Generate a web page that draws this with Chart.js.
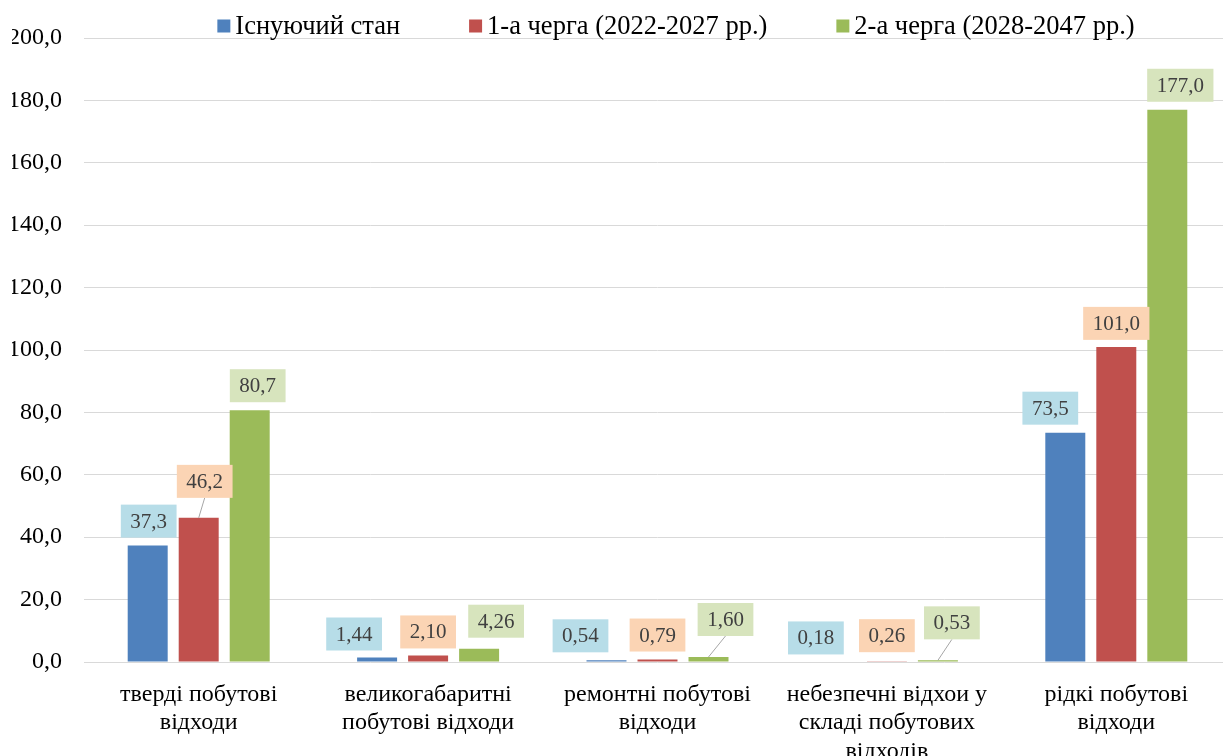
<!DOCTYPE html>
<html><head><meta charset="utf-8">
<script src="https://cdn.jsdelivr.net/npm/chart.js@4/dist/chart.umd.min.js"></script>
<style>
html,body{margin:0;padding:0;overflow:hidden;background:#fff;width:1223px;height:756px}
#wrap{position:absolute;left:0;top:0;width:1240px;height:790px}
</style>
</head><body><div id="wrap"><canvas id="c" width="1240" height="790"></canvas></div>
<script>
// ---- data ----
const categories = [
  ["тверді побутові","відходи"],
  ["великогабаритні","побутові відходи"],
  ["ремонтні побутові","відходи"],
  ["небезпечні відхои у","складі побутових","відходів"],
  ["рідкі побутові","відходи"]
];
const seriesNames = ["Існуючий стан","1-а черга (2022-2027 рр.)","2-а черга (2028-2047 рр.)"];
const existing = [37.3, 1.44, 0.54, 0.18, 73.5];
const stage1   = [46.2, 2.10, 0.79, 0.26, 101.0];
const stage2   = [80.7, 4.26, 1.60, 0.53, 177.0];
const labelDecimals = [1, 2, 2, 2, 1];
const yTicks = [0,20,40,60,80,100,120,140,160,180,200];

// ---- styles ----
const barColors = ["#4F81BD","#C0504D","#9BBB59"];
const labelFills = ["#B7DDE8","#FBD4B4","#D7E4BD"];
const SERIF = "'Liberation Serif','Times New Roman',serif";
// label placement tweaks (px): horizontal shift, gap between bar top and label box
const labelDx  = [[1,-23,-26,-20,-15],[6,0,0,0,0],[8,17,17,14,13]];
const labelGap = [[8,7,8,7,8],[20,7,8,9,7],[8,11,21,21,8]];

const fmt = (v, d) => v.toFixed(d).replace('.', ',');

const labelPlugin = {
  id: 'boxLabels',
  afterDatasetsDraw(chart) {
    const ctx = chart.ctx;
    ctx.save();
    ctx.font = "21px " + SERIF;
    ctx.textAlign = 'center';
    ctx.textBaseline = 'middle';
    chart.data.datasets.forEach((ds, i) => {
      const meta = chart.getDatasetMeta(i);
      meta.data.forEach((bar, j) => {
        const txt = fmt(ds.data[j], labelDecimals[j]);
        const w = ctx.measureText(txt).width + 19;
        const h = 33;
        const cx = bar.x + labelDx[i][j];
        const bottom = bar.y - labelGap[i][j];
        const top = bottom - h;
        if (labelGap[i][j] > 14) {
          ctx.strokeStyle = '#A6A6A6';
          ctx.lineWidth = 1;
          ctx.beginPath();
          ctx.moveTo(bar.x, bar.y);
          ctx.lineTo(cx, bottom);
          ctx.stroke();
        }
        ctx.fillStyle = labelFills[i];
        ctx.fillRect(cx - w/2, top, w, h);
        ctx.fillStyle = '#404040';
        ctx.fillText(txt, cx, top + h/2 + 1);
      });
    });
    ctx.restore();
  }
};

const LEGEND_CENTER_X = 676, LEGEND_Y = 26, LEGEND_GAP = 69, LEGEND_BOX = 13, LEGEND_TXT_GAP = 5;
const legendPlugin = {
  id: 'customLegend',
  afterDraw(chart) {
    const ctx = chart.ctx;
    ctx.save();
    ctx.font = "26.5px " + SERIF;
    ctx.textBaseline = 'middle';
    ctx.textAlign = 'left';
    const widths = seriesNames.map(s => ctx.measureText(s).width);
    const itemW = widths.map(w => LEGEND_BOX + LEGEND_TXT_GAP + w);
    const total = itemW.reduce((a,b)=>a+b,0) + LEGEND_GAP*(itemW.length-1);
    let x = LEGEND_CENTER_X - total/2;
    seriesNames.forEach((s, i) => {
      ctx.fillStyle = barColors[i];
      ctx.fillRect(x, LEGEND_Y - LEGEND_BOX/2, LEGEND_BOX, LEGEND_BOX);
      ctx.fillStyle = '#000';
      ctx.fillText(s, x + LEGEND_BOX + LEGEND_TXT_GAP, LEGEND_Y + 1);
      x += itemW[i] + LEGEND_GAP;
    });
    ctx.restore();
  }
};

new Chart(document.getElementById('c'), {
  type: 'bar',
  data: {
    labels: categories,
    datasets: [
      { label: seriesNames[0], data: existing, backgroundColor: barColors[0] },
      { label: seriesNames[1], data: stage1,   backgroundColor: barColors[1] },
      { label: seriesNames[2], data: stage2,   backgroundColor: barColors[2] }
    ]
  },
  options: {
    responsive: false,
    devicePixelRatio: 1,
    animation: false,
    categoryPercentage: 0.667,
    barPercentage: 0.784,
    layout: { padding: { left: 12, right: 9, top: 38, bottom: 28 } },
    plugins: { legend: { display: false }, tooltip: { enabled: false } },
    scales: {
      x: {
        grid: { display: false, drawTicks: false },
        border: { display: false },
        afterFit: s => { s.height = 100; },
        ticks: { color: '#000', font: { family: SERIF, size: 24, lineHeight: 1.2 }, padding: 18, maxRotation: 0, autoSkip: false }
      },
      y: {
        min: 0, max: 200,
        afterBuildTicks: (scale) => { scale.ticks = yTicks.map(v => ({ value: v })); },
        afterFit: s => { s.width = 72; },
        grid: { color: '#D9D9D9', lineWidth: 1, drawTicks: false },
        border: { display: false },
        ticks: { color: '#000', font: { family: SERIF, size: 24 }, padding: 22, callback: v => fmt(v, 1) }
      }
    }
  },
  plugins: [labelPlugin, legendPlugin]
});
</script>
</body></html>
